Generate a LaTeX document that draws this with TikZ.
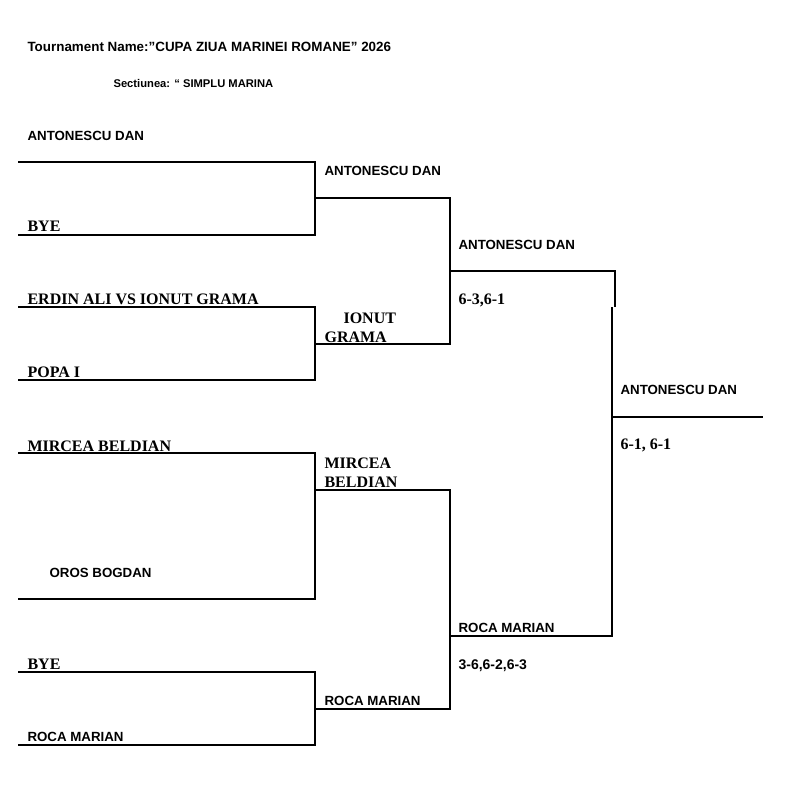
\documentclass[tikz,border=0pt]{standalone}
\usepackage{fontspec}
\setmainfont{Liberation Serif}
\setsansfont{Liberation Sans}

\tikzset{
  sname/.style={font=\sffamily\bfseries\fontsize{13.3}{16}\selectfont, anchor=base west, inner sep=0pt},
  rname/.style={font=\rmfamily\bfseries\fontsize{16}{19}\selectfont, anchor=base west, inner sep=0pt},
}

\begin{document}
\begin{tikzpicture}[x=1pt, y=-1pt, line width=1.1pt]
\useasboundingbox (0,0) rectangle (811,803);

\node[sname, font=\sffamily\bfseries\fontsize{13.4}{16}\selectfont] (title) at (27,51) {Tournament Name:”CUPA ZIUA MARINEI ROMANE” 2026};
\node[sname, font=\sffamily\bfseries\fontsize{11.2}{14}\selectfont] (sect) at (113,87) {Sectiunea: “ SIMPLU MARINA};

% first round
\coordinate (s1) at (18,162);
\coordinate (s2) at (18,235);
\coordinate (s3) at (18,307);
\coordinate (s4) at (18,380);
\coordinate (s5) at (18,453);
\coordinate (s6) at (18,599);
\coordinate (s7) at (18,672);
\coordinate (s8) at (18,745);

% second round
\coordinate (r1) at (315,198);
\coordinate (r2) at (315,344);
\coordinate (r3) at (315,490);
\coordinate (r4) at (315,709);

% semis and final
\coordinate (t1) at (450,271);
\coordinate (t2) at (450,636);
\coordinate (k) at (615,307);
\coordinate (f) at (612,417);
\coordinate (fe) at (763,417);

\draw (s1) -- (s1 -| r1) -- (s2 -| r1) -- (s2);
\draw (s3) -- (s3 -| r2) -- (s4 -| r2) -- (s4);
\draw (s5) -- (s5 -| r3) -- (s6 -| r3) -- (s6);
\draw (s7) -- (s7 -| r4) -- (s8 -| r4) -- (s8);

\draw (r1) -- (r1 -| t1) -- (r2 -| t1) -- (r2);
\draw (r3) -- (r3 -| t2) -- (r4 -| t2) -- (r4);

\draw (t1) -- (t1 -| k) -- (k);
\draw (t2) -- (t2 -| f) -- (f |- k);
\draw (f) -- (fe);

% names
\node[sname] (p1) at (27,140) {ANTONESCU DAN};
\node[rname] (p2) at (27,231) {BYE};
\node[rname] (p3) at (27,304) {ERDIN ALI VS IONUT GRAMA};
\node[rname] (p4) at (27,377) {POPA I};
\node[rname] (p5) at (27,451) {MIRCEA BELDIAN};
\node[sname] (p6) at (49,577) {OROS BOGDAN};
\node[rname] (p7) at (27,669) {BYE};
\node[sname] (p8) at (27,741) {ROCA MARIAN};

\node[sname] (q1) at (324,175) {ANTONESCU DAN};
\node[rname] (q2a) at (343,323) {IONUT};
\node[rname] (q2b) at (324,342) {GRAMA};
\node[rname] (q3a) at (324,468) {MIRCEA};
\node[rname] (q3b) at (324,487) {BELDIAN};
\node[sname] (q4) at (324,705) {ROCA MARIAN};

\node[sname] (w1) at (458,249) {ANTONESCU DAN};
\node[rname] (sc1) at (458,304) {6-3,6-1};
\node[sname] (w2) at (458,632) {ROCA MARIAN};
\node[sname, font=\sffamily\bfseries\fontsize{14}{16}\selectfont] (sc2) at (458,669) {3-6,6-2,6-3};

\node[sname] (champ) at (620,394) {ANTONESCU DAN};
\node[rname] (sc3) at (620,449) {6-1, 6-1};

\end{tikzpicture}
\end{document}
